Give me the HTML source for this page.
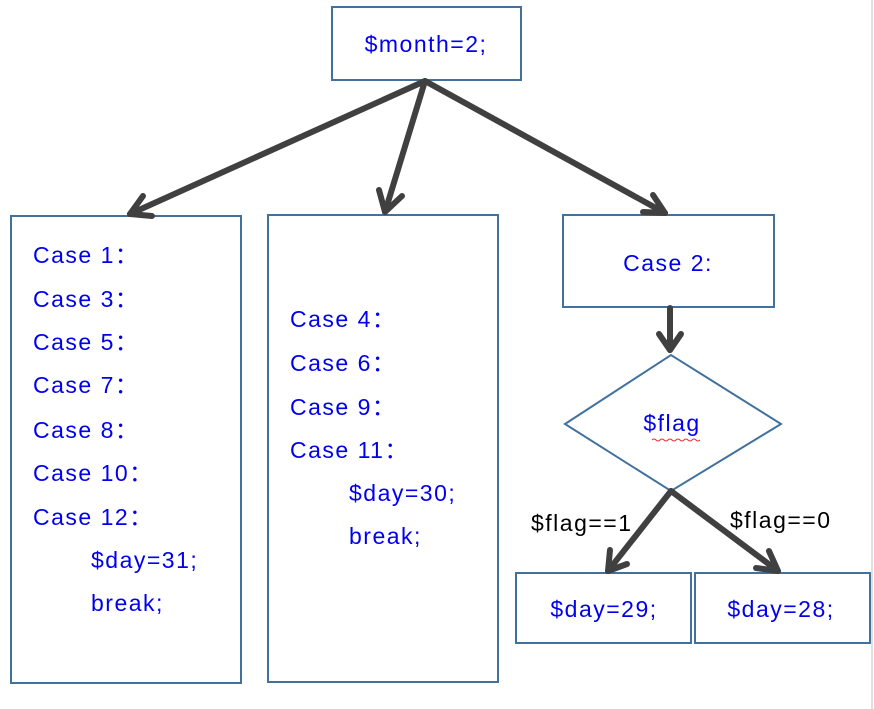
<!DOCTYPE html>
<html><head><style>
html,body{margin:0;padding:0;background:#fff;}
svg{display:block}
text{font-family:"Liberation Sans",sans-serif;font-size:23px;letter-spacing:1.5px;fill:#0000ee}
</style></head><body>
<svg width="874" height="709" viewBox="0 0 874 709" xmlns="http://www.w3.org/2000/svg">
<line x1="872" y1="0" x2="872" y2="709" stroke="#e0e0e0" stroke-width="2"/>
<g fill="none" stroke="#41719c" stroke-width="2">
<rect x="332" y="7" width="189" height="73"/>
<rect x="11" y="216" width="230" height="467"/>
<rect x="268" y="215" width="230" height="467"/>
<rect x="563" y="215" width="211" height="92"/>
<polygon points="565,424 671,355 781,424 671,491"/>
<rect x="516" y="573" width="175" height="70"/>
<rect x="695" y="573" width="175" height="70"/>
</g>
<g stroke="#404040" stroke-width="6" fill="none" stroke-linecap="round" stroke-linejoin="round">
<line x1="425" y1="81" x2="130" y2="214"/>
<polyline points="143,196 130,214 152,216"/>
<line x1="425" y1="81" x2="385" y2="212"/>
<polyline points="379,190 385,212 402,196"/>
<line x1="425" y1="81" x2="665" y2="213"/>
<polyline points="643,212 665,213 653,195"/>
<line x1="670" y1="308" x2="670" y2="350"/>
<polyline points="659,334 670,350 681,334"/>
<line x1="671" y1="491" x2="608" y2="571"/>
<polyline points="610,550 608,571 627,564"/>
<line x1="671" y1="491" x2="778" y2="571"/>
<polyline points="756,568 778,571 769,551"/>
</g>
<text x="426" y="52" text-anchor="middle">$month=2;</text>
<text x="33" y="263">Case 1：</text>
<text x="33" y="307">Case 3：</text>
<text x="33" y="350">Case 5：</text>
<text x="33" y="393">Case 7：</text>
<text x="33" y="438">Case 8：</text>
<text x="33" y="481">Case 10：</text>
<text x="33" y="525">Case 12：</text>
<text x="91" y="568">$day=31;</text>
<text x="91" y="611">break;</text>
<text x="290" y="327">Case 4：</text>
<text x="290" y="371">Case 6：</text>
<text x="290" y="415">Case 9：</text>
<text x="290" y="458">Case 11：</text>
<text x="349" y="501">$day=30;</text>
<text x="349" y="544">break;</text>
<text x="668" y="271" text-anchor="middle">Case 2:</text>
<text x="672" y="431" text-anchor="middle">$flag</text>
<path d="M652 440 q2 -2 4 0 t4 0 t4 0 t4 0 t4 0 t4 0 t4 0 t4 0 t4 0 t4 0 t4 0 t4 0" stroke="#e03030" stroke-width="1" fill="none"/>
<text x="531" y="531" style="fill:#000">$flag==1</text>
<text x="730" y="528" style="fill:#000">$flag==0</text>
<text x="604" y="617" text-anchor="middle">$day=29;</text>
<text x="781" y="617" text-anchor="middle">$day=28;</text>
</svg>
</body></html>
